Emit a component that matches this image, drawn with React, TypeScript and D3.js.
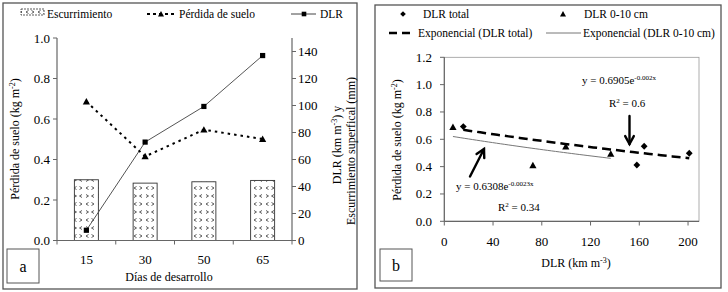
import React from "react";
import * as d3 from "d3";

// ---------- Data (panel a) ----------
const dias = ["15", "30", "50", "65"];
const escurrimiento = [45, 42.5, 43.5, 44.5]; // mm (right axis)
const perdidaSuelo = [0.686, 0.415, 0.547, 0.501]; // kg m-2 (left axis)
const dlrA = [7.6, 72.9, 99.3, 137]; // km m-3 (right axis)
const leftTicksA = [0, 0.2, 0.4, 0.6, 0.8, 1.0];
const rightTicksA = [0, 20, 40, 60, 80, 100, 120, 140];

// ---------- Data (panel b) ----------
const dlrTotal = [15.6, 158, 164, 201];
const dlr010 = [7.1, 72.7, 99.7, 136.6];
const perdidaTotal = [0.693, 0.412, 0.549, 0.498];
const perdida010 = [0.689, 0.41, 0.547, 0.493];
const xTicksB = [0, 40, 80, 120, 160, 200];
const yTicksB = [0, 0.2, 0.4, 0.6, 0.8, 1.0, 1.2];
const fitTotal = { a: 0.6905, b: -0.002 };
const fit010 = { a: 0.6308, b: -0.0023 };

const FONT = "Liberation Serif";

function Tri({ x, y, s = 3.6 }: { x: number; y: number; s?: number }) {
  return <path d={`M${x},${y - s}L${x + s},${y + s * 0.8}L${x - s},${y + s * 0.8}Z`} fill="#000" />;
}
function Sq({ x, y, s = 2.6 }: { x: number; y: number; s?: number }) {
  return <rect x={x - s} y={y - s} width={2 * s} height={2 * s} fill="#000" />;
}
function Dia({ x, y, s = 3.4 }: { x: number; y: number; s?: number }) {
  return <path d={`M${x},${y - s}L${x + s},${y}L${x},${y + s}L${x - s},${y}Z`} fill="#000" />;
}

function PanelA() {
  const x = d3.scaleBand<string>().domain(dias).range([57, 292]).padding(0);
  const yL = d3.scaleLinear().domain([0, 1]).range([240.5, 38]);
  const yR = d3.scaleLinear().domain([0, 150]).range([240.5, 38]);
  const cx = (d: string) => (x(d) as number) + x.bandwidth() / 2;
  const barW = 24;
  const perdLine = d3.line<number>().x((_, i) => cx(dias[i])).y((v) => yL(v))(perdidaSuelo) as string;
  const dlrLine = d3.line<number>().x((_, i) => cx(dias[i])).y((v) => yR(v))(dlrA) as string;
  const bounds = [...dias.map((d) => x(d) as number), 292];
  return (
    <g style={{ fontFamily: FONT }} fill="#000">
      <rect x={3} y={3} width={354} height={286} fill="none" stroke="#555" strokeWidth={1.3} />
      {/* legend */}
      <rect x={21} y={9} width={23} height={6} fill="url(#chev)" stroke="#333" strokeWidth={0.8} strokeDasharray="2,1" />
      <text x={47} y={18} fontSize={11.5}>Escurrimiento</text>
      <line x1={147} x2={176} y1={14} y2={14} stroke="#000" strokeWidth={1.8} strokeDasharray="3,3" />
      <Tri x={161} y={14} s={3} />
      <text x={179} y={18} fontSize={11.5}>Pérdida de suelo</text>
      <line x1={291} x2={316} y1={14} y2={14} stroke="#444" strokeWidth={1} />
      <Sq x={304} y={14} s={2.3} />
      <text x={320} y={18} fontSize={11.5}>DLR</text>

      {/* bars */}
      {dias.map((d, i) => (
        <rect key={d} x={cx(d) - barW / 2} y={yR(escurrimiento[i])} width={barW} height={240.5 - yR(escurrimiento[i])}
          fill="url(#chev)" stroke="#333" strokeWidth={0.9} />
      ))}
      {/* lines */}
      <path d={dlrLine} fill="none" stroke="#555" strokeWidth={1} />
      <path d={perdLine} fill="none" stroke="#000" strokeWidth={2} strokeDasharray="2.5,4" />
      {dlrA.map((v, i) => <Sq key={"s" + i} x={cx(dias[i])} y={yR(v)} />)}
      {perdidaSuelo.map((v, i) => <Tri key={"t" + i} x={cx(dias[i])} y={yL(v)} />)}

      {/* axes */}
      <line x1={57} x2={57} y1={38} y2={240.5} stroke="#666" strokeWidth={1.2} />
      <line x1={292} x2={292} y1={38} y2={240.5} stroke="#666" strokeWidth={1.2} />
      <line x1={57} x2={292} y1={240.5} y2={240.5} stroke="#666" strokeWidth={1.2} />
      {leftTicksA.map((t) => (
        <g key={"l" + t}>
          <line x1={53} x2={57} y1={yL(t)} y2={yL(t)} stroke="#666" />
          <text x={50} y={yL(t) + 4.5} fontSize={13} textAnchor="end">{d3.format(".1f")(t)}</text>
        </g>
      ))}
      {rightTicksA.map((t) => (
        <g key={"r" + t}>
          <line x1={292} x2={296} y1={yR(t)} y2={yR(t)} stroke="#666" />
          <text x={298} y={yR(t) + 4.5} fontSize={13}>{t}</text>
        </g>
      ))}
      {bounds.map((b, i) => <line key={"b" + i} x1={b} x2={b} y1={240.5} y2={244.5} stroke="#666" />)}
      {dias.map((d) => (
        <text key={"x" + d} x={cx(d)} y={264} fontSize={13} textAnchor="middle">{d}</text>
      ))}
      <text x={169} y={281} fontSize={12} textAnchor="middle">Días de desarrollo</text>
      <text transform="translate(19,139) rotate(-90)" fontSize={12} textAnchor="middle">
        Pérdida de suelo (kg m<tspan dy={-4} fontSize={8}>-2</tspan><tspan dy={4}>)</tspan>
      </text>
      <text transform="translate(341,145) rotate(-90)" fontSize={12} textAnchor="middle">
        DLR (km m<tspan dy={-4} fontSize={8}>-3</tspan><tspan dy={4}>) y</tspan>
      </text>
      <text transform="translate(355,151) rotate(-90)" fontSize={12} textAnchor="middle">Escurrimiento superfical (mm)</text>
      {/* panel label */}
      <rect x={7} y={249} width={32} height={34} fill="#fff" stroke="#555" strokeWidth={1} />
      <text x={23} y={272} fontSize={16} textAnchor="middle">a</text>
    </g>
  );
}

function PanelB() {
  const x = d3.scaleLinear().domain([0, 209]).range([444.3, 699]);
  const y = d3.scaleLinear().domain([0, 1.2]).range([221.3, 57.3]);
  const curve = (f: { a: number; b: number }, xs: number[]) => {
    const [lo, hi] = d3.extent(xs) as [number, number];
    const pts = d3.range(0, 41).map((i) => lo + ((hi - lo) * i) / 40);
    return d3.line<number>().x((v) => x(v)).y((v) => y(f.a * Math.exp(f.b * v)))(pts) as string;
  };
  const arrow = (x1: number, y1: number, x2: number, y2: number) => {
    const ang = Math.atan2(y2 - y1, x2 - x1);
    const L = 9, w = 0.5;
    const p1 = [x2 - L * Math.cos(ang - w), y2 - L * Math.sin(ang - w)];
    const p2 = [x2 - L * Math.cos(ang + w), y2 - L * Math.sin(ang + w)];
    return (
      <g stroke="#000" strokeWidth={2.4} fill="none" strokeLinecap="round">
        <line x1={x1} y1={y1} x2={x2} y2={y2} />
        <polyline points={`${p1[0]},${p1[1]} ${x2},${y2} ${p2[0]},${p2[1]}`} />
      </g>
    );
  };
  return (
    <g style={{ fontFamily: FONT }} fill="#000">
      <rect x={375} y={5} width={346} height={283} fill="none" stroke="#555" strokeWidth={1.3} />
      {/* legend */}
      <Dia x={403} y={14} s={2.8} />
      <text x={423} y={18} fontSize={11.5}>DLR total</text>
      <Tri x={563} y={14} s={3} />
      <text x={584} y={18} fontSize={11.5}>DLR 0-10 cm</text>
      <line x1={389} x2={415} y1={33} y2={33} stroke="#000" strokeWidth={2.5} strokeDasharray="8,5" />
      <text x={418} y={37} fontSize={11.5}>Exponencial (DLR total)</text>
      <line x1={546} x2={581} y1={33} y2={33} stroke="#777" strokeWidth={1} />
      <text x={583} y={37} fontSize={11.5}>Exponencial (DLR 0-10 cm)</text>

      {/* plot box */}
      <rect x={444.3} y={57.3} width={699 - 444.3} height={221.3 - 57.3} fill="none" stroke="#999" strokeWidth={0.8} />
      <line x1={444.3} x2={444.3} y1={57.3} y2={221.3} stroke="#666" strokeWidth={1.2} />
      <line x1={444.3} x2={699} y1={221.3} y2={221.3} stroke="#666" strokeWidth={1.2} />
      {yTicksB.map((t) => (
        <g key={"y" + t}>
          <line x1={440} x2={444.3} y1={y(t)} y2={y(t)} stroke="#666" />
          <text x={432} y={y(t) + 4.5} fontSize={13} textAnchor="end">{d3.format(".1f")(t)}</text>
        </g>
      ))}
      {xTicksB.map((t) => (
        <g key={"x" + t}>
          <line x1={x(t)} x2={x(t)} y1={221.3} y2={225.5} stroke="#666" />
          <text x={x(t)} y={245.5} fontSize={13} textAnchor="middle">{t}</text>
        </g>
      ))}
      <text x={576} y={267} fontSize={12} textAnchor="middle">
        DLR (km m<tspan dy={-4} fontSize={8}>-3</tspan><tspan dy={4}>)</tspan>
      </text>
      <text transform="translate(401,140) rotate(-90)" fontSize={12} textAnchor="middle">
        Pérdida de suelo (kg m<tspan dy={-4} fontSize={8}>-2</tspan><tspan dy={4}>)</tspan>
      </text>

      {/* trend lines */}
      <path d={curve(fit010, dlr010)} fill="none" stroke="#777" strokeWidth={1} />
      <path d={curve(fitTotal, dlrTotal)} fill="none" stroke="#000" strokeWidth={2.5} strokeDasharray="9,5" />
      {dlr010.map((v, i) => <Tri key={"t" + i} x={x(v)} y={y(perdida010[i])} />)}
      {dlrTotal.map((v, i) => <Dia key={"d" + i} x={x(v)} y={y(perdidaTotal[i])} />)}

      {/* annotations */}
      <text x={582} y={84} fontSize={11}>
        y = 0.6905e<tspan dy={-4} fontSize={7}>-0.002x</tspan>
      </text>
      <text x={609} y={107} fontSize={11}>
        R<tspan dy={-4} fontSize={7}>2</tspan><tspan dy={4}> = 0.6</tspan>
      </text>
      {arrow(629.5, 116, 629.5, 144)}
      {arrow(470, 176.5, 484, 149)}
      <text x={456} y={190} fontSize={11}>
        y = 0.6308e<tspan dy={-4} fontSize={7}>-0.0023x</tspan>
      </text>
      <text x={498} y={211} fontSize={11}>
        R<tspan dy={-4} fontSize={7}>2</tspan><tspan dy={4}> = 0.34</tspan>
      </text>

      <rect x={380} y={249} width={32} height={32} fill="#fff" stroke="#555" strokeWidth={1} />
      <text x={396} y={271} fontSize={16} textAnchor="middle">b</text>
    </g>
  );
}

export default function App() {
  return (
    <svg width={728} height={292} style={{ position: "absolute", left: 0, top: 0, background: "#fff" }}>
      <defs>
        <pattern id="chev" width={12} height={16} patternUnits="userSpaceOnUse">
          <rect width={12} height={16} fill="#fff" />
          <path d="M2,2.5 L4.5,4 L2,5.5 M10,2.5 L7.5,4 L10,5.5 M4.5,10.5 L2,12 L4.5,13.5 M7.5,10.5 L10,12 L7.5,13.5"
            fill="none" stroke="#333" strokeWidth={0.8} />
        </pattern>
      </defs>
      <rect width={728} height={292} fill="#fff" />
      <PanelA />
      <PanelB />
    </svg>
  );
}
